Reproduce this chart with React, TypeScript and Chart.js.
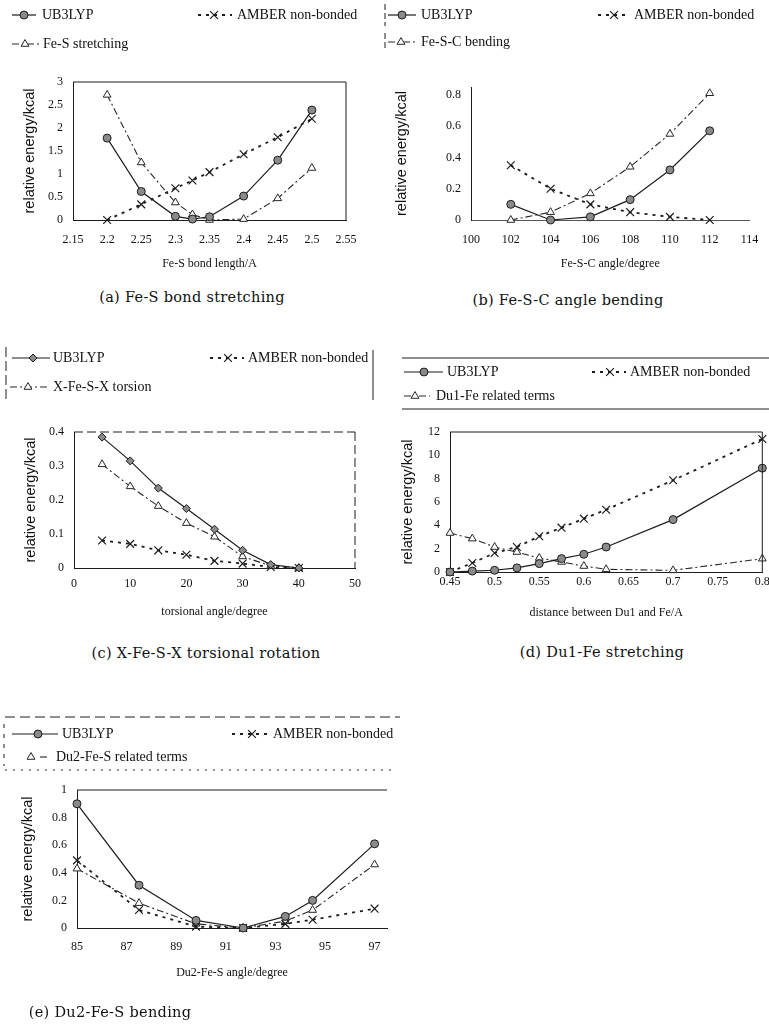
import React, { useEffect, useRef } from 'react';
import { Chart, registerables } from 'chart.js';

Chart.register(...registerables);

// ---------- (a) Fe-S bond stretching ----------
const aBondLength = [2.2, 2.25, 2.3, 2.325, 2.35, 2.4, 2.45, 2.5];
const aUB3LYP = [1.78, 0.62, 0.08, 0.02, 0.07, 0.52, 1.3, 2.39];
const aAMBER = [0, 0.34, 0.69, 0.86, 1.04, 1.43, 1.8, 2.2];
const aFeSStretch = [2.72, 1.25, 0.38, 0.12, 0.0, 0.02, 0.47, 1.13];
const aXTicks = [2.15, 2.2, 2.25, 2.3, 2.35, 2.4, 2.45, 2.5, 2.55];
const aYTicks = [0, 0.5, 1, 1.5, 2, 2.5, 3];

// ---------- (b) Fe-S-C angle bending ----------
const bAngle = [102, 104, 106, 108, 110, 112];
const bUB3LYP = [0.1, 0.0, 0.02, 0.13, 0.32, 0.57];
const bAMBER = [0.35, 0.2, 0.1, 0.05, 0.02, 0.0];
const bFeSCBend = [0.0, 0.05, 0.17, 0.34, 0.55, 0.81];
const bXTicks = [100, 102, 104, 106, 108, 110, 112, 114];
const bYTicks = [0, 0.2, 0.4, 0.6, 0.8];

// ---------- (c) X-Fe-S-X torsional rotation ----------
const cTorsionAngle = [5, 10, 15, 20, 25, 30, 35, 40];
const cUB3LYP = [0.385, 0.315, 0.235, 0.175, 0.114, 0.052, 0.01, 0];
const cAMBER = [0.081, 0.071, 0.052, 0.039, 0.021, 0.013, 0.003, 0];
const cTorsionTerm = [0.305, 0.24, 0.182, 0.132, 0.092, 0.034, 0.006, 0];
const cXTicks = [0, 10, 20, 30, 40, 50];
const cYTicks = [0, 0.1, 0.2, 0.3, 0.4];

// ---------- (d) Du1-Fe stretching ----------
const dDistance = [0.45, 0.475, 0.5, 0.525, 0.55, 0.575, 0.6, 0.625, 0.7, 0.8];
const dUB3LYP = [0, 0.08, 0.15, 0.35, 0.72, 1.15, 1.52, 2.14, 4.49, 8.9];
const dAMBER = [0, 0.77, 1.63, 2.14, 3.06, 3.8, 4.57, 5.34, 7.86, 11.4];
const dDu1Terms = [3.34, 2.86, 2.14, 1.71, 1.2, 0.86, 0.51, 0.23, 0.14, 1.14];
const dXTicks = [0.45, 0.5, 0.55, 0.6, 0.65, 0.7, 0.75, 0.8];
const dYTicks = [0, 2, 4, 6, 8, 10, 12];

// ---------- (e) Du2-Fe-S bending ----------
const eAngle = [85, 87.5, 89.8, 91.7, 93.4, 94.5, 97];
const eUB3LYP = [0.9, 0.31, 0.055, 0, 0.084, 0.2, 0.61];
const eAMBER = [0.49, 0.13, 0.01, 0, 0.03, 0.06, 0.14];
const eDu2Terms = [0.43, 0.18, 0.03, 0, 0.05, 0.13, 0.46];
const eXTicks = [85, 87, 89, 91, 93, 95, 97];
const eYTicks = [0, 0.2, 0.4, 0.6, 0.8, 1];

type Kind = 'ub' | 'amber' | 'term';

const STYLES: Record<Kind, any> = {
  ub: { color: '#1c1c1c', width: 1.2, dash: [], point: 'circle', r: 4, fill: '#8a8a8a', pbw: 1 },
  amber: { color: '#1c1c1c', width: 1.8, dash: [3, 5], point: 'crossRot', r: 5.5, fill: '#1c1c1c', pbw: 1.2 },
  term: { color: '#262626', width: 1.1, dash: [7, 3, 2, 3], point: 'triangle', r: 4.5, fill: '#ffffff', pbw: 1 },
};

type LegendItem = { kind: Kind; y: number; x1: number; x2: number; mx: number; tx: number; text: string; point?: string };
type Seg = { x1: number; y1: number; x2: number; y2: number; dash?: number[]; w?: number; color?: string };

const fmt = (v: any) => String(Number(Number(v).toFixed(3)));

function drawMarker(ctx: CanvasRenderingContext2D, kind: Kind, x: number, y: number, pointOverride?: string) {
  const s = STYLES[kind];
  const ps = pointOverride || s.point;
  const r = s.r;
  ctx.save();
  ctx.setLineDash([]);
  ctx.lineWidth = s.pbw;
  ctx.strokeStyle = s.color;
  ctx.fillStyle = s.fill;
  ctx.beginPath();
  if (ps === 'circle') {
    ctx.arc(x, y, r, 0, Math.PI * 2);
    ctx.fill();
    ctx.stroke();
  } else if (ps === 'rectRot') {
    ctx.moveTo(x, y - r);
    ctx.lineTo(x + r, y);
    ctx.lineTo(x, y + r);
    ctx.lineTo(x - r, y);
    ctx.closePath();
    ctx.fill();
    ctx.stroke();
  } else if (ps === 'crossRot') {
    const d = r * Math.SQRT1_2;
    ctx.moveTo(x - d, y - d);
    ctx.lineTo(x + d, y + d);
    ctx.moveTo(x + d, y - d);
    ctx.lineTo(x - d, y + d);
    ctx.stroke();
  } else {
    const h = r * 1.5;
    ctx.moveTo(x, y - h * 0.66);
    ctx.lineTo(x + r * 0.87, y + h * 0.34);
    ctx.lineTo(x - r * 0.87, y + h * 0.34);
    ctx.closePath();
    ctx.fill();
    ctx.stroke();
  }
  ctx.restore();
}

interface PanelCfg {
  box: [number, number, number, number];
  plot: [number, number, number, number];
  xMin: number; xMax: number; xTicks: number[]; xTitle: string; xLabelY: number; xTitleY: number;
  yMin: number; yMax: number; yTicks: number[]; yTitle: string; yTitleX: number;
  xs: number[];
  series: { label: string; kind: Kind; ys: number[]; point?: string }[];
  legend: LegendItem[];
  legendFont: number;
  segs: Seg[];
  xBorderDash: number[]; yBorderDash: number[]; xBorderColor?: string;
  boxTop?: number[] | null; boxRight?: number[] | null;
}

const TICK_SIZE = 12;
const XTITLE_SIZE = 12;
const YTITLE_SIZE = 14.5;

function buildConfig(cfg: PanelCfg): any {
  const [cl, ct, cw, ch] = cfg.box;
  const [pl, pt, pr, pb] = cfg.plot;
  const yLH = YTITLE_SIZE * 1.2;
  const xLH = XTITLE_SIZE * 1.2;
  const tLH = TICK_SIZE * 1.2;
  const padLeft = cfg.yTitleX - cl - yLH / 2;
  const yAxisWidth = pl - cl - padLeft;
  const xAxisBottom = cfg.xTitleY + xLH / 2;
  const xAxisHeight = xAxisBottom - pb;
  const padBottom = ct + ch - xAxisBottom;
  const xTickPad = cfg.xLabelY - pb - tLH / 2;

  const datasets = cfg.series.map((s) => {
    const st = STYLES[s.kind];
    return {
      label: s.label,
      data: cfg.xs.map((x, i) => ({ x, y: s.ys[i] })),
      showLine: true,
      borderColor: st.color,
      borderWidth: st.width,
      borderDash: st.dash,
      pointStyle: s.point || st.point,
      pointRadius: st.r,
      pointBackgroundColor: st.fill,
      pointBorderColor: st.color,
      pointBorderWidth: st.pbw,
      tension: 0,
      clip: false,
    };
  });

  const overlay = {
    id: 'overlay',
    afterDraw(chart: any) {
      const ctx: CanvasRenderingContext2D = chart.ctx;
      const ca = chart.chartArea;
      ctx.save();
      ctx.strokeStyle = '#1c1c1c';
      ctx.lineWidth = 1;
      if (cfg.boxTop) {
        ctx.setLineDash(cfg.boxTop);
        ctx.beginPath();
        ctx.moveTo(ca.left, ca.top);
        ctx.lineTo(ca.right, ca.top);
        ctx.stroke();
      }
      if (cfg.boxRight) {
        ctx.setLineDash(cfg.boxRight);
        ctx.beginPath();
        ctx.moveTo(ca.right, ca.top);
        ctx.lineTo(ca.right, ca.bottom);
        ctx.stroke();
      }
      for (const s of cfg.segs) {
        ctx.setLineDash(s.dash || []);
        ctx.lineWidth = s.w || 1;
        ctx.strokeStyle = s.color || '#1c1c1c';
        ctx.beginPath();
        ctx.moveTo(s.x1 - cl, s.y1 - ct);
        ctx.lineTo(s.x2 - cl, s.y2 - ct);
        ctx.stroke();
      }
      for (const it of cfg.legend) {
        const st = STYLES[it.kind];
        const y = it.y - ct;
        ctx.setLineDash(st.dash);
        ctx.lineWidth = st.width;
        ctx.strokeStyle = st.color;
        if (it.x2 > it.x1) {
          ctx.beginPath();
          ctx.moveTo(it.x1 - cl, y);
          ctx.lineTo(it.x2 - cl, y);
          ctx.stroke();
        }
        ctx.setLineDash([]);
        drawMarker(ctx, it.kind, it.mx - cl, y, it.point);
        ctx.fillStyle = '#111';
        ctx.font = `${cfg.legendFont}px "Liberation Serif"`;
        ctx.textBaseline = 'middle';
        ctx.textAlign = 'left';
        ctx.fillText(it.text, it.tx - cl, y);
      }
      ctx.restore();
    },
  };

  const tickFont = { family: 'Liberation Serif', size: TICK_SIZE };

  return {
    type: 'scatter',
    data: { datasets },
    options: {
      animation: false,
      responsive: false,
      devicePixelRatio: 1,
      events: [],
      layout: { padding: { left: padLeft, top: pt - ct, right: cl + cw - pr, bottom: padBottom } },
      plugins: { legend: { display: false }, tooltip: { enabled: false }, title: { display: false } },
      scales: {
        x: {
          type: 'linear',
          position: 'bottom',
          min: cfg.xMin,
          max: cfg.xMax,
          afterBuildTicks: (ax: any) => { ax.ticks = cfg.xTicks.map((v) => ({ value: v })); },
          afterFit: (ax: any) => { ax.height = xAxisHeight; ax.paddingLeft = 0; ax.paddingRight = 0; },
          grid: { display: false, drawTicks: false, tickLength: 0 },
          border: { display: true, color: cfg.xBorderColor || '#1c1c1c', width: 1, dash: cfg.xBorderDash },
          ticks: { padding: xTickPad, font: tickFont, color: '#111', callback: fmt, autoSkip: false, maxRotation: 0, minRotation: 0 },
          title: {
            display: true, text: cfg.xTitle, color: '#111', padding: 0, align: 'center',
            font: { family: 'Liberation Serif', size: XTITLE_SIZE },
          },
        },
        y: {
          type: 'linear',
          position: 'left',
          min: cfg.yMin,
          max: cfg.yMax,
          afterBuildTicks: (ax: any) => { ax.ticks = cfg.yTicks.map((v) => ({ value: v })); },
          afterFit: (ax: any) => { ax.width = yAxisWidth; ax.paddingTop = 0; ax.paddingBottom = 0; },
          grid: { display: false, drawTicks: false, tickLength: 0 },
          border: { display: true, color: '#1c1c1c', width: 1, dash: cfg.yBorderDash },
          ticks: { padding: 10, font: tickFont, color: '#111', callback: fmt, autoSkip: false },
          title: { display: true, text: cfg.yTitle, color: '#111', padding: 0, font: { family: 'Liberation Sans', size: YTITLE_SIZE } },
        },
      },
    },
    plugins: [overlay],
  };
}

const Y_TITLE = 'relative energy/kcal';

const PANELS: { cfg: PanelCfg; caption: string; cx: number; cy: number }[] = [
  {
    caption: '(a) Fe-S bond stretching', cx: 192, cy: 297,
    cfg: {
      box: [0, 0, 380, 282], plot: [73, 82, 346, 220],
      xMin: 2.15, xMax: 2.55, xTicks: aXTicks, xTitle: 'Fe-S bond length/A', xLabelY: 240, xTitleY: 264,
      yMin: 0, yMax: 3, yTicks: aYTicks, yTitle: Y_TITLE, yTitleX: 30,
      xs: aBondLength,
      series: [
        { label: 'UB3LYP', kind: 'ub', ys: aUB3LYP },
        { label: 'AMBER non-bonded', kind: 'amber', ys: aAMBER },
        { label: 'Fe-S stretching', kind: 'term', ys: aFeSStretch },
      ],
      legend: [
        { kind: 'ub', y: 15, x1: 12, x2: 36, mx: 24, tx: 42, text: 'UB3LYP' },
        { kind: 'amber', y: 15, x1: 198, x2: 232, mx: 214, tx: 237, text: 'AMBER non-bonded' },
        { kind: 'term', y: 44, x1: 12, x2: 40, mx: 25, tx: 43, text: 'Fe-S stretching' },
      ],
      legendFont: 14,
      segs: [],
      xBorderDash: [], yBorderDash: [],
      boxTop: [], boxRight: [],
    },
  },
  {
    caption: '(b) Fe-S-C angle bending', cx: 568, cy: 300,
    cfg: {
      box: [380, 0, 389, 282], plot: [471, 87, 749.5, 220],
      xMin: 100, xMax: 114, xTicks: bXTicks, xTitle: 'Fe-S-C angle/degree', xLabelY: 240, xTitleY: 264,
      yMin: 0, yMax: 0.85, yTicks: bYTicks, yTitle: Y_TITLE, yTitleX: 402,
      xs: bAngle,
      series: [
        { label: 'UB3LYP', kind: 'ub', ys: bUB3LYP },
        { label: 'AMBER non-bonded', kind: 'amber', ys: bAMBER },
        { label: 'Fe-S-C bending', kind: 'term', ys: bFeSCBend },
      ],
      legend: [
        { kind: 'ub', y: 15, x1: 388, x2: 416, mx: 402, tx: 421, text: 'UB3LYP' },
        { kind: 'amber', y: 15, x1: 598, x2: 630, mx: 614, tx: 634, text: 'AMBER non-bonded' },
        { kind: 'term', y: 42, x1: 388, x2: 418, mx: 401, tx: 421, text: 'Fe-S-C bending' },
      ],
      legendFont: 14,
      segs: [
        { x1: 385, y1: 4, x2: 385, y2: 26, dash: [6, 3] },
        { x1: 385, y1: 33, x2: 385, y2: 50, dash: [6, 3] },
      ],
      xBorderDash: [2, 6], yBorderDash: [], xBorderColor: '#555',
      boxTop: null, boxRight: null,
    },
  },
  {
    caption: '(c) X-Fe-S-X torsional rotation', cx: 206, cy: 653,
    cfg: {
      box: [0, 340, 385, 290], plot: [74, 432, 355, 568],
      xMin: 0, xMax: 50, xTicks: cXTicks, xTitle: 'torsional angle/degree', xLabelY: 584, xTitleY: 612,
      yMin: 0, yMax: 0.4, yTicks: cYTicks, yTitle: Y_TITLE, yTitleX: 31,
      xs: cTorsionAngle,
      series: [
        { label: 'UB3LYP', kind: 'ub', ys: cUB3LYP, point: 'rectRot' },
        { label: 'AMBER non-bonded', kind: 'amber', ys: cAMBER },
        { label: 'X-Fe-S-X torsion', kind: 'term', ys: cTorsionTerm },
      ],
      legend: [
        { kind: 'ub', y: 358, x1: 12, x2: 50, mx: 33, tx: 53, text: 'UB3LYP', point: 'rectRot' },
        { kind: 'amber', y: 358, x1: 210, x2: 244, mx: 228, tx: 248, text: 'AMBER non-bonded' },
        { kind: 'term', y: 387, x1: 10, x2: 50, mx: 28, tx: 53, text: 'X-Fe-S-X torsion' },
      ],
      legendFont: 14,
      segs: [
        { x1: 6, y1: 347, x2: 6, y2: 400, dash: [10, 4] },
        { x1: 373, y1: 350, x2: 373, y2: 400, dash: [] },
      ],
      xBorderDash: [], yBorderDash: [],
      boxTop: [9, 4], boxRight: [9, 4],
    },
  },
  {
    caption: '(d) Du1-Fe stretching', cx: 602, cy: 652,
    cfg: {
      box: [385, 340, 384, 290], plot: [450, 432, 763, 572],
      xMin: 0.45, xMax: 0.8, xTicks: dXTicks, xTitle: 'distance between Du1 and Fe/A', xLabelY: 582, xTitleY: 613,
      yMin: 0, yMax: 12, yTicks: dYTicks, yTitle: Y_TITLE, yTitleX: 408,
      xs: dDistance,
      series: [
        { label: 'UB3LYP', kind: 'ub', ys: dUB3LYP },
        { label: 'AMBER non-bonded', kind: 'amber', ys: dAMBER },
        { label: 'Du1-Fe related terms', kind: 'term', ys: dDu1Terms },
      ],
      legend: [
        { kind: 'ub', y: 372, x1: 404, x2: 443, mx: 424, tx: 447, text: 'UB3LYP' },
        { kind: 'amber', y: 372, x1: 592, x2: 626, mx: 610, tx: 630, text: 'AMBER non-bonded' },
        { kind: 'term', y: 396, x1: 404, x2: 430, mx: 415, tx: 436, text: 'Du1-Fe related terms' },
      ],
      legendFont: 14,
      segs: [
        { x1: 402, y1: 358, x2: 769, y2: 358, dash: [] },
        { x1: 402, y1: 409, x2: 769, y2: 409, dash: [] },
      ],
      xBorderDash: [], yBorderDash: [],
      boxTop: [], boxRight: [],
    },
  },
  {
    caption: '(e) Du2-Fe-S bending', cx: 110, cy: 1012,
    cfg: {
      box: [0, 700, 400, 327], plot: [77, 790, 387, 928],
      xMin: 85, xMax: 97.5, xTicks: eXTicks, xTitle: 'Du2-Fe-S angle/degree', xLabelY: 947, xTitleY: 973,
      yMin: 0, yMax: 1, yTicks: eYTicks, yTitle: Y_TITLE, yTitleX: 28,
      xs: eAngle,
      series: [
        { label: 'UB3LYP', kind: 'ub', ys: eUB3LYP },
        { label: 'AMBER non-bonded', kind: 'amber', ys: eAMBER },
        { label: 'Du2-Fe-S related terms', kind: 'term', ys: eDu2Terms },
      ],
      legend: [
        { kind: 'ub', y: 734, x1: 12, x2: 58, mx: 38, tx: 62, text: 'UB3LYP' },
        { kind: 'amber', y: 734, x1: 232, x2: 268, mx: 252, tx: 273, text: 'AMBER non-bonded' },
        { kind: 'term', y: 757, x1: 40, x2: 48, mx: 31, tx: 56, text: 'Du2-Fe-S related terms' },
      ],
      legendFont: 14,
      segs: [
        { x1: 5, y1: 717, x2: 400, y2: 717, dash: [10, 5] },
        { x1: 5, y1: 770, x2: 392, y2: 770, dash: [2, 6] },
        { x1: 4, y1: 724, x2: 4, y2: 766, dash: [4, 6] },
      ],
      xBorderDash: [8, 4], yBorderDash: [4, 4],
      boxTop: [], boxRight: null,
    },
  },
];

function Panel({ cfg }: { cfg: PanelCfg }) {
  const ref = useRef<HTMLCanvasElement>(null);
  useEffect(() => {
    const chart = new Chart(ref.current as HTMLCanvasElement, buildConfig(cfg));
    return () => chart.destroy();
  }, [cfg]);
  const [l, t, w, h] = cfg.box;
  return (
    <canvas
      ref={ref}
      width={w}
      height={h}
      style={{ position: 'absolute', left: l, top: t, width: w, height: h, display: 'block' }}
    />
  );
}

export default function App() {
  return (
    <div style={{ position: 'absolute', left: 0, top: 0, width: 769, height: 1027, overflow: 'hidden', background: '#fff' }}>
      {PANELS.map((p, i) => (
        <Panel key={i} cfg={p.cfg} />
      ))}
      {PANELS.map((p, i) => (
        <div
          key={'cap' + i}
          style={{
            position: 'absolute',
            left: p.cx,
            top: p.cy - 10,
            height: 20,
            lineHeight: '20px',
            transform: 'translateX(-50%)',
            whiteSpace: 'nowrap',
            fontFamily: '"DejaVu Serif", serif',
            fontSize: 14.5,
            letterSpacing: 0.3,
            color: '#111',
          }}
        >
          {p.caption}
        </div>
      ))}
    </div>
  );
}
